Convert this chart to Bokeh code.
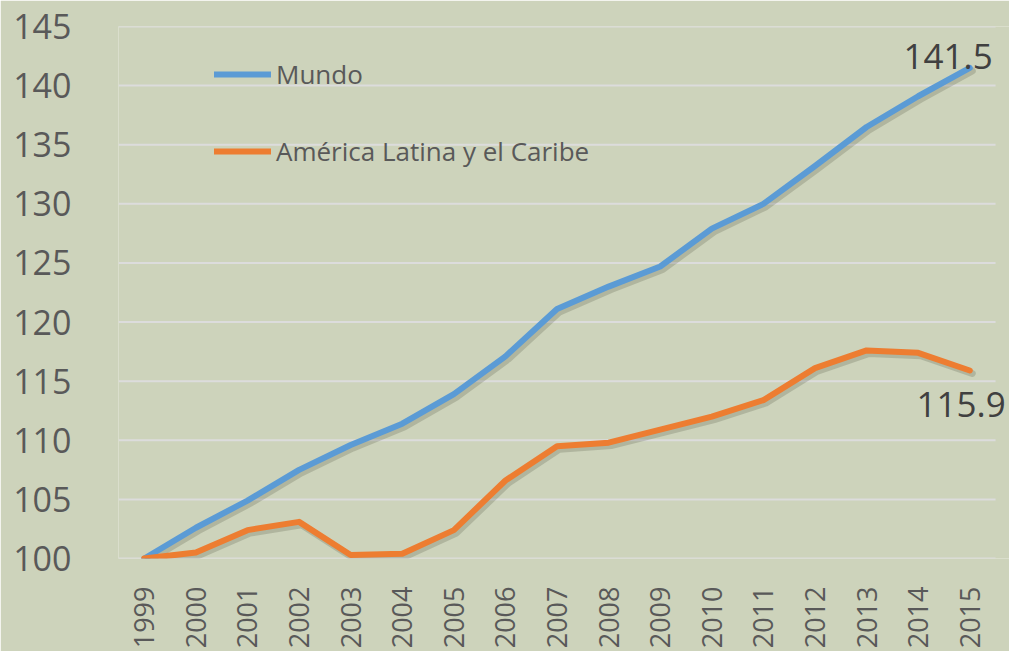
import math
from bokeh.plotting import figure
from bokeh.models import Range1d, FixedTicker, Label, Legend, LegendItem
from bokeh.embed import file_html
from bokeh.resources import INLINE

years = [1999, 2000, 2001, 2002, 2003, 2004, 2005, 2006, 2007, 2008,
         2009, 2010, 2011, 2012, 2013, 2014, 2015]
mundo = [100.0, 102.6, 104.9, 107.5, 109.6, 111.4, 113.9, 117.1, 121.1, 123.0,
         124.7, 127.9, 130.0, 133.2, 136.5, 139.1, 141.5]
alc = [100.0, 100.5, 102.4, 103.1, 100.3, 100.4, 102.4, 106.6, 109.5, 109.8,
       110.9, 112.0, 113.4, 116.1, 117.6, 117.4, 115.9]
y_ticks = [100, 105, 110, 115, 120, 125, 130, 135, 140, 145]
series_names = ["Mundo", "América Latina y el Caribe"]
end_labels = ["141.5", "115.9"]

BG = "#CDD3BB"
BLUE = "#5B9BD5"
ORANGE = "#ED7D31"
FONT = "Open Sans"

x_lo, x_hi = years[0] - 0.5, years[-1] + 0.5
p = figure(width=1009, height=651, output_backend="svg", toolbar_location=None,
           x_range=Range1d(x_lo, x_hi + 0.27), y_range=Range1d(100, 145),
           min_border_left=118, min_border_right=0, min_border_top=26,
           min_border_bottom=84)
p.background_fill_color = BG
p.border_fill_color = BG
p.outline_line_color = None

p.xgrid.grid_line_color = None
p.ygrid.grid_line_color = None
# horizontal gridlines spanning the category area only
p.segment(x0=[x_lo] * len(y_ticks), x1=[x_hi] * len(y_ticks), y0=y_ticks, y1=y_ticks,
          line_color="#DCDCDC", line_width=2)

p.yaxis.ticker = FixedTicker(ticks=y_ticks)
p.yaxis.axis_line_color = None
p.yaxis.major_tick_line_color = None
p.yaxis.minor_tick_line_color = None
p.yaxis.major_label_text_font = FONT
p.yaxis.major_label_text_font_size = "34px"
p.yaxis.major_label_text_color = "#595959"
p.yaxis.major_label_standoff = 41

p.xaxis.ticker = FixedTicker(ticks=years)
p.xaxis.major_label_overrides = {y: str(y) for y in years}
p.xaxis.major_label_orientation = math.pi / 2
p.xaxis.axis_line_color = None
p.xaxis.major_tick_line_color = None
p.xaxis.minor_tick_line_color = None
p.xaxis.major_label_text_font = FONT
p.xaxis.major_label_text_font_size = "27px"
p.xaxis.major_label_text_color = "#595959"
p.xaxis.major_label_standoff = 22

# soft shadows (offset a few pixels down-right)
dx = 2.5 / 51.6
dy = 3 / 12.0
for ys in (mundo, alc):
    p.line([x + dx for x in years], [v - dy for v in ys], line_color="#3A3F2E",
           line_alpha=0.2, line_width=7, line_join="round", line_cap="round")

r1 = p.line(years, mundo, line_color=BLUE, line_width=6, line_join="round", line_cap="round")
r2 = p.line(years, alc, line_color=ORANGE, line_width=6, line_join="round", line_cap="round")

legend = Legend(items=[LegendItem(label=series_names[0], renderers=[r1]),
                       LegendItem(label=series_names[1], renderers=[r2])],
                location=(96, 389), orientation="vertical")
legend.background_fill_alpha = 0
legend.border_line_color = None
legend.padding = 0
legend.margin = 0
legend.spacing = 41
legend.glyph_width = 57
legend.glyph_height = 30
legend.label_standoff = 5
legend.label_text_font = FONT
legend.label_text_font_size = "26px"
legend.label_text_color = "#595959"
p.add_layout(legend, "center")

p.add_layout(Label(x=years[-1], y=mundo[-1], text=end_labels[0], text_align="right",
                   text_baseline="alphabetic", x_offset=23, y_offset=11,
                   text_font=FONT, text_font_size="35px", text_color="#404040"))
p.add_layout(Label(x=years[-1], y=alc[-1], text=end_labels[1], text_align="right",
                   text_baseline="alphabetic", x_offset=36, y_offset=-34,
                   text_font=FONT, text_font_size="35px", text_color="#404040"))

open("out.html", "w").write(file_html(p, INLINE))
